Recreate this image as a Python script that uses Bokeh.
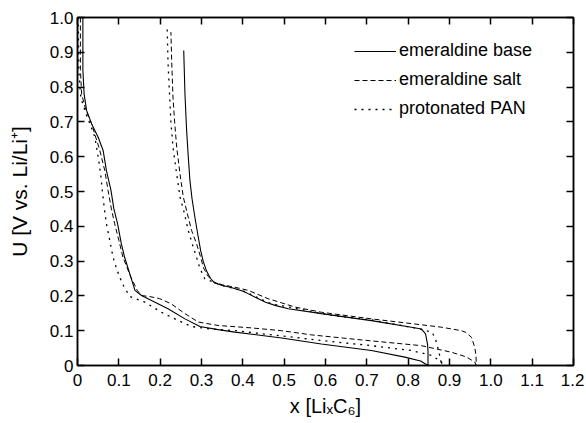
from bokeh.plotting import figure
from bokeh.models import FixedTicker, LinearAxis, Range1d, Legend, LegendItem
from bokeh.embed import file_html
from bokeh.resources import INLINE

# ---------------- data ----------------
x_ticks = [0, 0.1, 0.2, 0.3, 0.4, 0.5, 0.6, 0.7, 0.8, 0.9, 1.0, 1.1, 1.2]
x_tick_labels = ["0", "0.1", "0.2", "0.3", "0.4", "0.5", "0.6", "0.7", "0.8", "0.9", "1.0", "1.1", "1.2"]
y_ticks = [0, 0.1, 0.2, 0.3, 0.4, 0.5, 0.6, 0.7, 0.8, 0.9, 1.0]
y_tick_labels = ["0", "0.1", "0.2", "0.3", "0.4", "0.5", "0.6", "0.7", "0.8", "0.9", "1.0"]

x_title = "x [LiₓC₆]"
y_title = "U [V vs. Li/Li⁺]"
series_names = ["emeraldine base", "emeraldine salt", "protonated PAN"]

# emeraldine base (solid): discharge then charge
base_dis_x = [0.013, 0.013, 0.016, 0.022, 0.034, 0.050, 0.062, 0.070, 0.081, 0.088, 0.097, 0.106,
              0.114, 0.129, 0.139, 0.155, 0.179, 0.219, 0.260, 0.296, 0.340, 0.381, 0.494, 0.590,
              0.711, 0.792, 0.830, 0.848]
base_dis_u = [1.0, 0.85, 0.78, 0.733, 0.695, 0.656, 0.618, 0.56, 0.503, 0.45, 0.407, 0.35,
              0.311, 0.254, 0.216, 0.201, 0.187, 0.163, 0.134, 0.112, 0.103, 0.096, 0.079, 0.062,
              0.043, 0.024, 0.013, 0.0]
base_ch_x = [0.848, 0.848, 0.847, 0.842, 0.832, 0.808, 0.711, 0.590, 0.510, 0.480, 0.455, 0.430,
             0.410, 0.397, 0.370, 0.350, 0.332, 0.322, 0.312, 0.304, 0.298, 0.292, 0.284, 0.277,
             0.272, 0.268, 0.264, 0.260, 0.257]
base_ch_u = [0.0, 0.04, 0.06, 0.091, 0.105, 0.110, 0.129, 0.149, 0.163, 0.172, 0.182, 0.196,
             0.208, 0.215, 0.225, 0.230, 0.237, 0.250, 0.272, 0.300, 0.330, 0.370, 0.426, 0.480,
             0.532, 0.600, 0.675, 0.780, 0.905]

# emeraldine salt (dashed)
salt_dis_x = [0.007, 0.007, 0.010, 0.020, 0.034, 0.054, 0.066, 0.074, 0.082, 0.090, 0.100, 0.110,
              0.129, 0.145, 0.155, 0.175, 0.199, 0.227, 0.260, 0.292, 0.340, 0.421, 0.494, 0.566,
              0.700, 0.832, 0.905, 0.940, 0.961, 0.965]
salt_dis_u = [1.0, 0.85, 0.78, 0.735, 0.695, 0.618, 0.56, 0.503, 0.45, 0.407, 0.36, 0.311,
              0.254, 0.215, 0.201, 0.198, 0.192, 0.177, 0.149, 0.125, 0.115, 0.108, 0.100, 0.088,
              0.072, 0.057, 0.038, 0.025, 0.010, 0.0]
salt_ch_x = [0.965, 0.964, 0.961, 0.953, 0.940, 0.929, 0.881, 0.832, 0.711, 0.590, 0.526, 0.494,
             0.461, 0.413, 0.380, 0.350, 0.330, 0.316, 0.305, 0.298, 0.288, 0.276, 0.265, 0.256,
             0.248, 0.240, 0.235, 0.231, 0.228, 0.226]
salt_ch_u = [0.0, 0.03, 0.053, 0.081, 0.095, 0.100, 0.110, 0.117, 0.134, 0.153, 0.168, 0.180,
             0.192, 0.216, 0.225, 0.232, 0.240, 0.256, 0.280, 0.311, 0.350, 0.388, 0.440, 0.484,
             0.550, 0.627, 0.700, 0.771, 0.870, 0.958]

# protonated PAN (dotted)
pan_dis_x = [0.002, 0.003, 0.008, 0.020, 0.030, 0.042, 0.050, 0.056, 0.060, 0.065, 0.070, 0.078,
             0.086, 0.094, 0.102, 0.113, 0.127, 0.145, 0.163, 0.203, 0.244, 0.276, 0.320, 0.381,
             0.494, 0.590, 0.711, 0.808, 0.857, 0.881]
pan_dis_u = [1.0, 0.85, 0.77, 0.725, 0.695, 0.656, 0.60, 0.55, 0.503, 0.45, 0.407, 0.36,
             0.311, 0.280, 0.254, 0.225, 0.198, 0.190, 0.182, 0.153, 0.129, 0.112, 0.105, 0.100,
             0.085, 0.072, 0.057, 0.043, 0.029, 0.010]
pan_ch_x = [0.881, 0.876, 0.870, 0.865, 0.857, 0.824, 0.711, 0.615, 0.494, 0.469, 0.400, 0.350,
            0.308, 0.296, 0.288, 0.280, 0.268, 0.258, 0.248, 0.240, 0.231, 0.226, 0.223, 0.219,
            0.217]
pan_ch_u = [0.0, 0.03, 0.06, 0.08, 0.096, 0.106, 0.131, 0.144, 0.172, 0.177, 0.215, 0.230,
            0.249, 0.280, 0.311, 0.340, 0.388, 0.440, 0.484, 0.550, 0.627, 0.700, 0.771, 0.870,
            0.967]

FONT = "Liberation Sans"

p = figure(frame_width=496, frame_height=348, output_backend="svg", toolbar_location=None,
           x_range=Range1d(0, 1.2), y_range=Range1d(0, 1.0),
           min_border_left=77, min_border_right=11, min_border_top=17, min_border_bottom=58,
           x_axis_label=x_title, y_axis_label=y_title)
p.background_fill_color = "white"
p.border_fill_color = "white"
p.xgrid.visible = False
p.ygrid.visible = False
p.outline_line_color = "black"
p.outline_line_width = 1.5

styles = [("solid", 1.1), ("5 3", 1.0), ("2 5", 1.3)]
xs = [base_dis_x + base_ch_x, salt_dis_x + salt_ch_x, pan_dis_x + pan_ch_x]
us = [base_dis_u + base_ch_u, salt_dis_u + salt_ch_u, pan_dis_u + pan_ch_u]
items = []
for name, xv, uv, (dash, w) in zip(series_names, xs, us, styles):
    r = p.line(xv, uv, line_color="black", line_width=w, line_dash=dash)
    items.append(LegendItem(label=name, renderers=[r]))

legend = Legend(items=items, location=(277, 246), border_line_color=None,
                background_fill_alpha=0, padding=0, margin=0, spacing=8,
                glyph_width=42, glyph_height=20, label_height=20, label_standoff=3,
                label_text_font=FONT, label_text_font_size="18px", label_text_color="black")
p.add_layout(legend, "center")

x_over = {t: l for t, l in zip(x_ticks, x_tick_labels)}
y_over = {t: l for t, l in zip(y_ticks, y_tick_labels)}

def style_axis(ax, ticks, over, show_labels=True):
    ax.ticker = FixedTicker(ticks=ticks)
    ax.major_label_overrides = over
    ax.axis_line_width = 1.5
    ax.axis_line_color = "black"
    ax.major_tick_line_width = 1.5
    ax.major_tick_line_color = "black"
    ax.major_tick_in = 7
    ax.major_tick_out = 0
    ax.minor_tick_line_color = None
    ax.major_label_text_font = FONT
    ax.major_label_text_color = "black"
    ax.major_label_text_font_size = "17px" if show_labels else "0px"
    ax.axis_label_text_font = FONT
    ax.axis_label_text_font_style = "normal"
    ax.axis_label_text_color = "black"

style_axis(p.xaxis[0], x_ticks, x_over)
style_axis(p.yaxis[0], y_ticks, y_over)
p.xaxis[0].major_label_standoff = 8
p.xaxis[0].axis_label_standoff = 6
p.xaxis[0].axis_label_text_font_size = "20px"
p.yaxis[0].major_label_standoff = 4
p.yaxis[0].axis_label_standoff = 16
p.yaxis[0].axis_label_text_font_size = "21px"

top_ax = LinearAxis()
right_ax = LinearAxis()
style_axis(top_ax, x_ticks, x_over, show_labels=False)
style_axis(right_ax, y_ticks, y_over, show_labels=False)
for ax in (top_ax, right_ax):
    ax.major_label_standoff = 0
    ax.major_label_text_alpha = 0
p.add_layout(top_ax, "above")
p.add_layout(right_ax, "right")

open("out.html", "w").write(file_html(p, INLINE))
